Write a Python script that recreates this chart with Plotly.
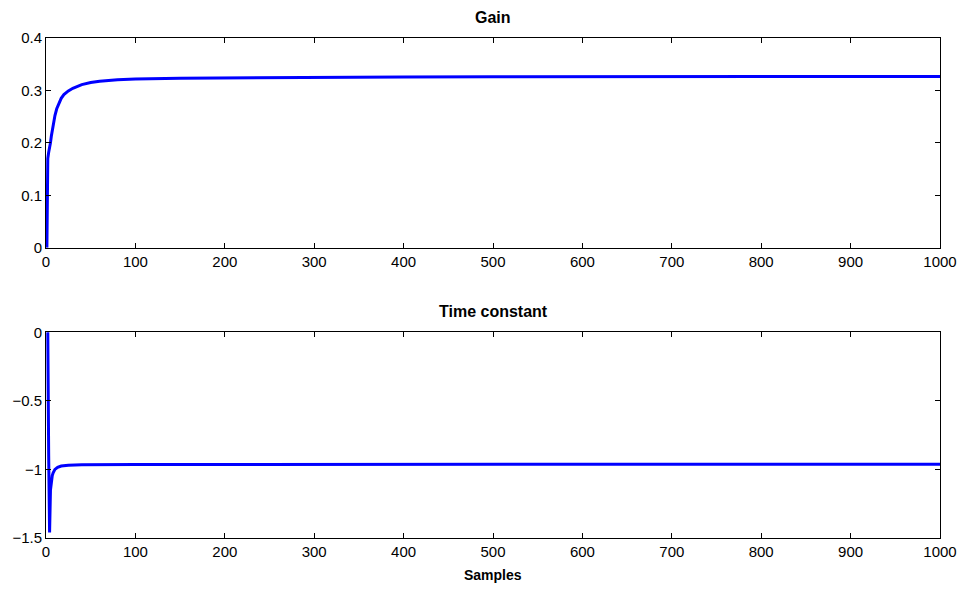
import plotly.graph_objects as go

# Gain estimate vs samples
gain_x = [1, 2, 3, 4, 5, 6, 7, 8, 10, 12, 15, 17, 20, 25, 30, 35, 40, 50, 60, 80, 100, 150, 200, 300, 400, 500, 700, 1000]
gain_y = [0, 0.17, 0.182, 0.19, 0.2, 0.213, 0.225, 0.236, 0.252, 0.265, 0.279, 0.285, 0.292, 0.299, 0.304,
          0.308, 0.311, 0.315, 0.3175, 0.3203, 0.322, 0.3233, 0.324, 0.325, 0.3255, 0.326, 0.3263, 0.3267]

# Time constant estimate vs samples
tc_x = [1, 2, 3, 4, 5, 6, 7, 8, 10, 13, 17, 25, 40, 100, 300, 1000]
tc_y = [0, 0, -0.9, -1.46, -1.15, -1.08, -1.045, -1.025, -1.0, -0.985, -0.975, -0.969, -0.966,
        -0.964, -0.963, -0.962]

titles = ["Gain", "Time constant"]
xlabel = "Samples"

FONT = "Liberation Sans, Arial, sans-serif"
W, H = 965, 589
ML, MR, MT, MB = 46, 25, 38, 51
PH = H - MT - MB

def py(p):
    return 1 - (p - MT) / PH

fig = go.Figure()
fig.add_trace(go.Scatter(x=gain_x, y=gain_y, mode="lines", line=dict(color="#0000ff", width=3),
                         xaxis="x", yaxis="y", showlegend=False))
fig.add_trace(go.Scatter(x=tc_x, y=tc_y, mode="lines", line=dict(color="#0000ff", width=3),
                         xaxis="x2", yaxis="y2", showlegend=False))

axis_common = dict(showline=True, linecolor="black", linewidth=1, mirror="ticks", ticks="inside",
                   ticklen=5, tickcolor="black", tickwidth=1, showgrid=False, zeroline=False,
                   automargin=False,
                   tickfont=dict(family=FONT, size=15, color="black"))

top_dom = [py(247.7), 1]
bot_dom = [0, py(332.3)]

fig.update_layout(
    width=W, height=H,
    margin=dict(l=ML, r=MR, t=MT, b=MB),
    paper_bgcolor="white", plot_bgcolor="white",
    xaxis=dict(domain=[0, 1], range=[0, 1000], tickvals=list(range(0, 1001, 100)), anchor="y", **axis_common),
    yaxis=dict(domain=top_dom, range=[0, 0.4], tickvals=[0, 0.1, 0.2, 0.3, 0.4], anchor="x", **axis_common),
    xaxis2=dict(domain=[0, 1], range=[0, 1000], tickvals=list(range(0, 1001, 100)), anchor="y2", **axis_common),
    yaxis2=dict(domain=bot_dom, range=[-1.5, 0], tickvals=[-1.5, -1, -0.5, 0], anchor="x2", **axis_common),
    annotations=[
        dict(text="<b>%s</b>" % titles[0], x=0.5, y=py(17.5), xref="paper", yref="paper",
             showarrow=False, xanchor="center", yanchor="middle",
             font=dict(family=FONT, size=16, color="black")),
        dict(text="<b>%s</b>" % titles[1], x=0.5, y=py(311), xref="paper", yref="paper",
             showarrow=False, xanchor="center", yanchor="middle",
             font=dict(family=FONT, size=16, color="black")),
        dict(text="<b>%s</b>" % xlabel, x=0.5, y=py(575), xref="paper", yref="paper",
             showarrow=False, xanchor="center", yanchor="middle",
             font=dict(family=FONT, size=14, color="black")),
    ],
)

fig.write_html("out.html")
